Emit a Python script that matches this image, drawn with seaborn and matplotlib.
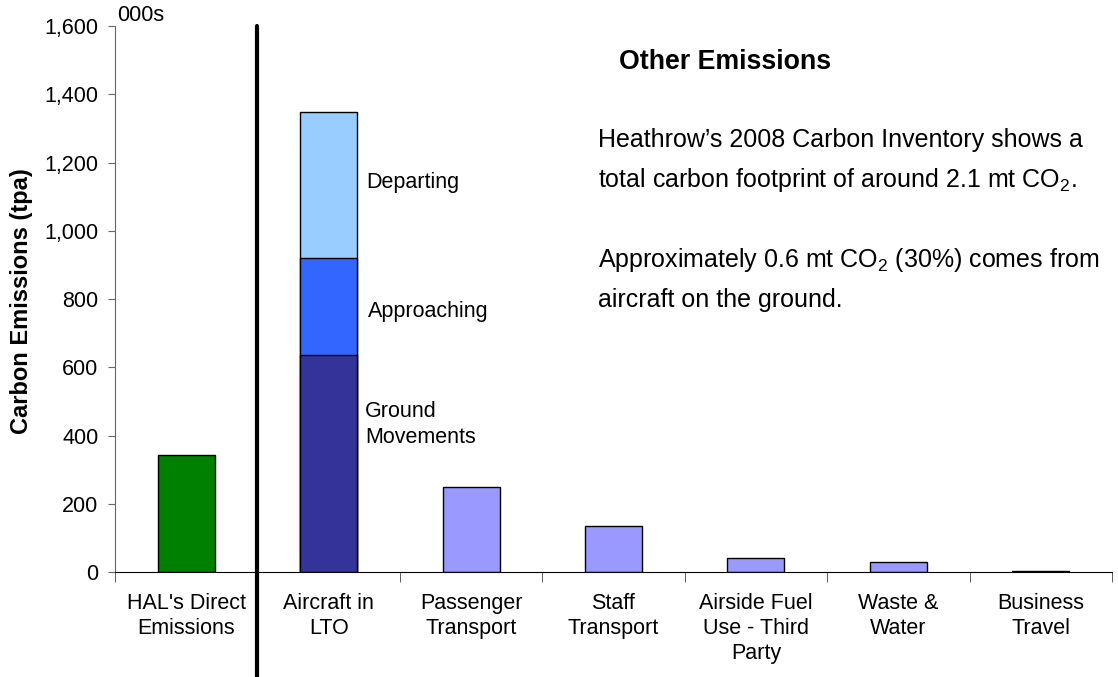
import numpy as np
import pandas as pd
import matplotlib
matplotlib.use("Agg")
import matplotlib.pyplot as plt
import seaborn as sns

# ----------------------------------------------------
# Data (thousands of tonnes CO2 per annum)
# ----------------------------------------------------
categories = ["HAL's Direct\nEmissions", "Aircraft in\nLTO", "Passenger\nTransport",
              "Staff\nTransport", "Airside Fuel\nUse - Third\nParty", "Waste &\nWater",
              "Business\nTravel"]
other_values = [343, None, 249, 136, 42, 29, 3]

lto_ground = 636
lto_approaching = 285
lto_departing = 428

bar_colors = ["#008000", "#99CCFF", "#9999FF", "#9999FF", "#9999FF", "#9999FF", "#9999FF"]
lto_colors = {"ground": "#333399", "approaching": "#3366FF"}

totals = [v if v is not None else lto_ground + lto_approaching + lto_departing
          for v in other_values]
df = pd.DataFrame({"category": categories, "value": totals})

# ----------------------------------------------------
# Figure
# ----------------------------------------------------
sns.set_style("ticks")
plt.rcParams["font.family"] = ["Liberation Sans", "DejaVu Sans"]
plt.rcParams["text.color"] = "black"
plt.rcParams["xtick.color"] = "black"
plt.rcParams["ytick.color"] = "black"
plt.rcParams["axes.labelcolor"] = "black"
plt.rcParams["mathtext.fontset"] = "custom"
plt.rcParams["mathtext.rm"] = "Liberation Sans"
plt.rcParams["mathtext.default"] = "regular"

fig = plt.figure(figsize=(11.18, 6.77), dpi=100)
ax = fig.add_axes([115 / 1118, 1 - 572 / 677, 997 / 1118, 546 / 677])

# full bars (top layer of the LTO stack included)
sns.barplot(data=df, x="category", y="value", hue="category", palette=bar_colors,
            order=categories, width=0.4, edgecolor="black", linewidth=1,
            legend=False, ax=ax, saturation=1)
# LTO stack: approaching + ground, then ground
sns.barplot(x=[categories[1]], y=[lto_ground + lto_approaching], order=categories,
            color=lto_colors["approaching"], width=0.4, edgecolor="black",
            linewidth=1, ax=ax, saturation=1)
sns.barplot(x=[categories[1]], y=[lto_ground], order=categories,
            color=lto_colors["ground"], width=0.4, edgecolor="black",
            linewidth=1, ax=ax, saturation=1)

ax.set_xlim(-0.5, len(categories) - 0.5)
ax.set_ylim(0, 1600)
ax.set_yticks(np.arange(0, 1601, 200))
ax.set_yticklabels([f"{v:,}" for v in range(0, 1601, 200)], fontsize=15.5)
ax.set_xticks(range(len(categories)))
ax.set_xticklabels(categories, fontsize=15.5, linespacing=1.25)
ax.set_xticks(np.arange(-0.5, len(categories), 1), minor=True)
ax.tick_params(axis="x", which="major", length=0, pad=15)
ax.tick_params(axis="x", which="minor", length=7, color="#444444")
ax.tick_params(axis="y", length=5, color="#666666", pad=7)
ax.set_xlabel("")
ax.set_ylabel("")

sns.despine(ax=ax)
ax.spines["left"].set_color("#666666")
ax.spines["bottom"].set_color("black")

# separator between direct and other emissions
ax.axvline(0.5, ymin=-0.195, ymax=1.0, color="black", linewidth=3, clip_on=False)

fig.text(22 / 1118, 1 - 301 / 677, "Carbon Emissions (tpa)", rotation=90,
         ha="center", va="center", fontsize=17, fontweight="bold")
ax.text(0.002, 1.0, "000s", transform=ax.transAxes, fontsize=15.5, va="bottom")

# stack labels
ax.text(1.262, 1125, "Departing", fontsize=15.5, va="baseline")
ax.text(1.276, 747, "Approaching", fontsize=15.5, va="baseline")
ax.text(1.255, 454, "Ground", fontsize=15.5, va="baseline")
ax.text(1.255, 378, "Movements", fontsize=15.5, va="baseline")

# commentary
fig.text(725 / 1118, 1 - 69 / 677, "Other Emissions", ha="center", va="baseline",
         fontsize=19.3, fontweight="bold")
lines = ["Heathrow\u2019s 2008 Carbon Inventory shows a",
         "total carbon footprint of around 2.1 mt CO$_2$.",
         "Approximately 0.6 mt CO$_2$ (30%) comes from",
         "aircraft on the ground."]
for txt, base in zip(lines, [147, 187, 267, 307]):
    fig.text(598 / 1118, 1 - base / 677, txt, ha="left", va="baseline", fontsize=18)

fig.savefig("out.png", dpi=100)
